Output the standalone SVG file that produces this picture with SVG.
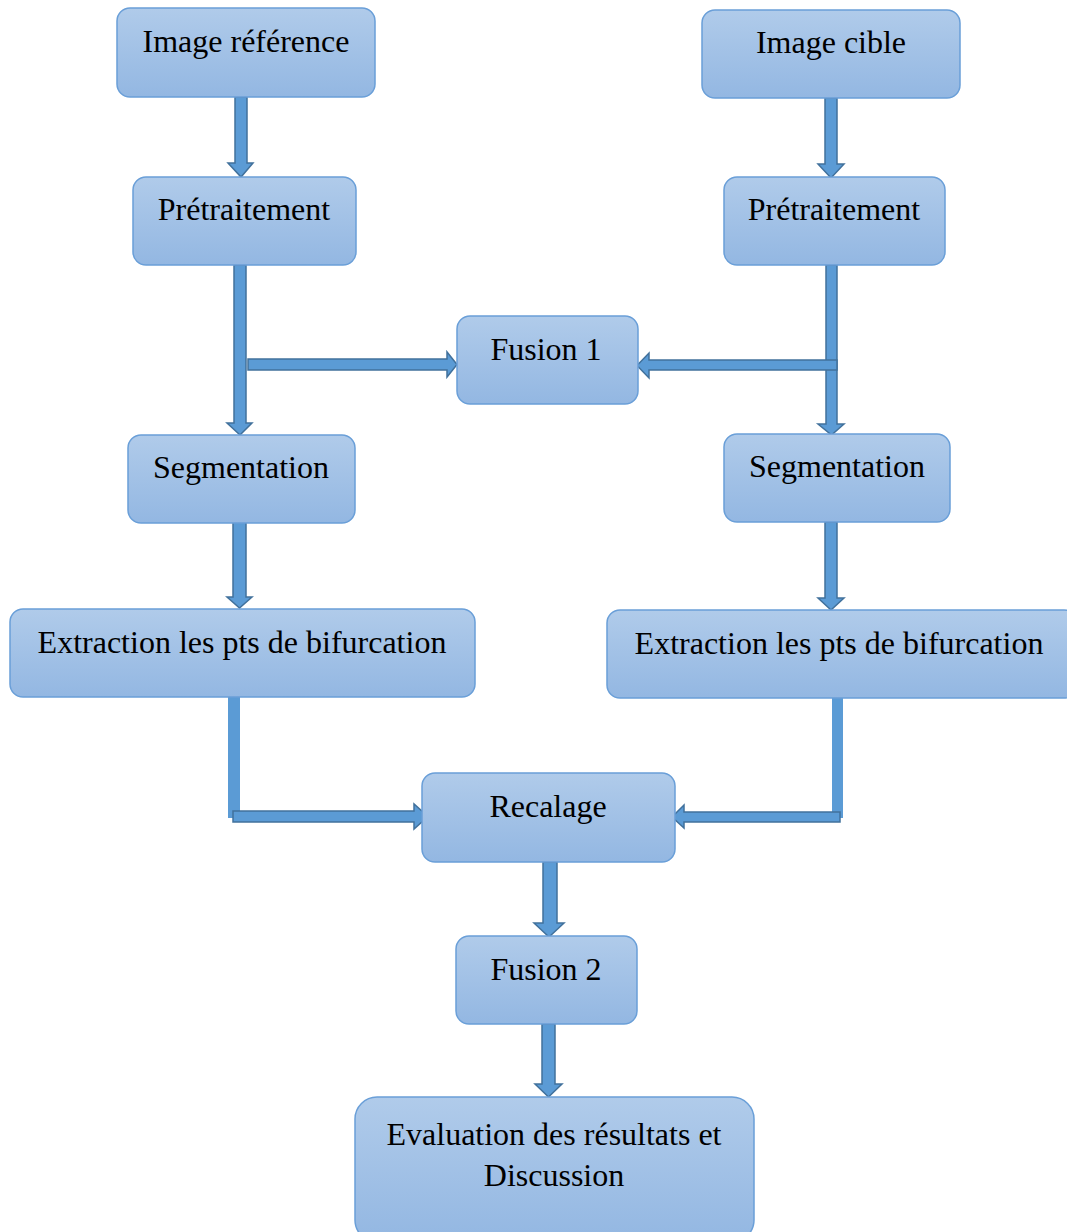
<svg xmlns="http://www.w3.org/2000/svg" width="1067" height="1232" viewBox="0 0 1067 1232">
<defs>
<linearGradient id="g" x1="0" y1="0" x2="0" y2="1">
<stop offset="0" stop-color="#b0cbea"/>
<stop offset="1" stop-color="#93b7e2"/>
</linearGradient>
<style>
.box{fill:url(#g);stroke:#6a9fd8;stroke-width:1.5}
.t{font-family:"Liberation Serif","Times New Roman",serif;font-size:32px;fill:#000;text-anchor:middle}
.ar{fill:#5b9bd5;stroke:#41719c;stroke-width:1.5;stroke-linejoin:miter}
.ln{fill:#5b9bd5;stroke:none}
</style>
</defs>
<rect width="1067" height="1232" fill="#fff"/>
<g id="connectors">
<polygon class="ar" points="235,97 247,97 247,163 253,163 241,177 228,163 235,163"/>
<polygon class="ar" points="825,98 837,98 837,164 844,164 831,178 818,164 825,164"/>
<polygon class="ar" points="234,265 246,265 246,423 252,423 240,435 227,423 234,423"/>
<polygon class="ar" points="248,359 447,359 447,352 457,364.5 447,377 447,370 248,370"/>
<polygon class="ar" points="826,265 837,265 837,424 844,424 831.5,435 818,424 826,424"/>
<polygon class="ar" points="837,360 649,360 649,353 637,365.5 649,378 649,370 837,370"/>
<polygon class="ar" points="233,520 246,520 246,597 252,597 239.5,608 227,597 233,597"/>
<polygon class="ar" points="825,522 837,522 837,598 844,598 831,610 818,598 825,598"/>
<rect class="ln" x="228" y="697" width="12" height="121"/>
<polygon class="ar" points="233,811 414,811 414,804 428,816.5 414,829 414,822 233,822"/>
<rect class="ln" x="832" y="698" width="11" height="120"/>
<polygon class="ar" points="840,812 684,812 684,805 672,817 684,828 684,822 840,822"/>
<polygon class="ar" points="543,862 557,862 557,923 564,923 549,937 534,923 543,923"/>
<polygon class="ar" points="542,1024 555,1024 555,1084 562,1084 548.5,1097 535,1084 542,1084"/>
</g>
<g id="n1"><rect class="box" x="117" y="8" width="258" height="89" rx="13"/><text class="t" x="246" y="52">Image référence</text></g>
<g id="n2"><rect class="box" x="702" y="10" width="258" height="88" rx="13"/><text class="t" x="831" y="53">Image cible</text></g>
<g id="n3"><rect class="box" x="133" y="177" width="223" height="88" rx="13"/><text class="t" x="244" y="220">Prétraitement</text></g>
<g id="n4"><rect class="box" x="724" y="177" width="221" height="88" rx="13"/><text class="t" x="834" y="220">Prétraitement</text></g>
<g id="n5"><rect class="box" x="457" y="316" width="181" height="88" rx="13"/><text class="t" x="546" y="360">Fusion 1</text></g>
<g id="n6"><rect class="box" x="128" y="435" width="227" height="88" rx="13"/><text class="t" x="241" y="478">Segmentation</text></g>
<g id="n7"><rect class="box" x="724" y="434" width="226" height="88" rx="13"/><text class="t" x="837" y="477">Segmentation</text></g>
<g id="n8"><rect class="box" x="10" y="609" width="465" height="88" rx="13"/><text class="t" x="242" y="653">Extraction les pts de bifurcation</text></g>
<g id="n9"><rect class="box" x="607" y="610" width="470" height="88" rx="13"/><text class="t" x="839" y="654">Extraction les pts de bifurcation</text></g>
<g id="n10"><rect class="box" x="422" y="773" width="253" height="89" rx="13"/><text class="t" x="548" y="817">Recalage</text></g>
<g id="n11"><rect class="box" x="456" y="936" width="181" height="88" rx="13"/><text class="t" x="546" y="980">Fusion 2</text></g>
<g id="n12"><rect class="box" x="355" y="1097" width="399" height="145" rx="22"/><text class="t" x="554" y="1145">Evaluation des résultats et</text><text class="t" x="554" y="1186">Discussion</text></g>
</svg>
